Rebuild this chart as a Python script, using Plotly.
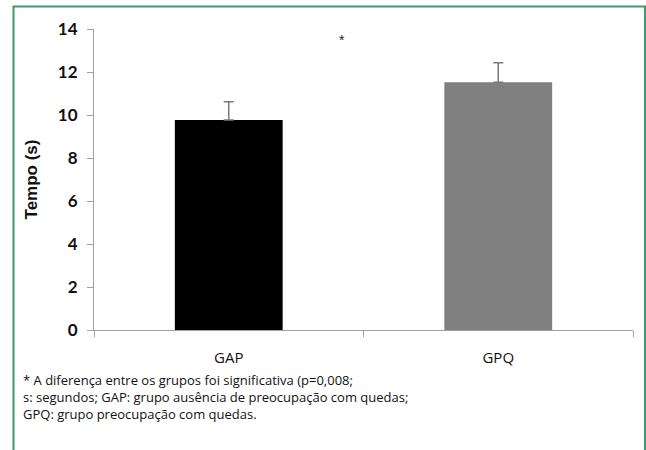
import plotly.graph_objects as go

categories = ["GAP", "GPQ"]
means = [9.77, 11.52]
sd_upper = [0.85, 0.91]
bar_colors = ["#000000", "#808080"]
y_ticks = [0, 2, 4, 6, 8, 10, 12, 14]
caption_lines = [
    "* A diferença entre os grupos foi significativa (p=0,008;",
    "s: segundos; GAP: grupo ausência de preocupação com quedas;",
    "GPQ: grupo preocupação com quedas.",
]

fig = go.Figure()
fig.add_trace(go.Bar(
    x=categories, y=means,
    marker=dict(color=bar_colors, line=dict(width=0)),
    width=0.4,
    error_y=dict(type="data", symmetric=False, array=sd_upper, arrayminus=[0, 0],
                 color="#7a7a7a", thickness=1.5, width=5),
))

fig.add_annotation(x=0.42, y=13.5, xref="x", yref="y", text="*", showarrow=False,
                   font=dict(family="Liberation Sans", size=14, color="#222222"))

fig.add_annotation(x=(22 - 94) / 539, y=(330 - 396.5) / 301, xref="paper", yref="paper",
                   text="<br>".join(caption_lines), showarrow=False, align="left",
                   xanchor="left", yanchor="middle", borderpad=0,
                   font=dict(family="Open Sans", size=13, color="#111111"))

fig.add_shape(type="rect", xref="paper", yref="paper",
              x0=(13.5 - 94) / 539, x1=(645 - 94) / 539,
              y0=(330 - 470) / 301, y1=(330 - 6.5) / 301,
              line=dict(color="#3d9a6e", width=2), fillcolor="rgba(0,0,0,0)", layer="below")

fig.update_layout(
    width=646, height=450,
    margin=dict(l=94, r=13, t=29, b=120),
    paper_bgcolor="white", plot_bgcolor="white",
    showlegend=False,
    xaxis=dict(showline=True, linecolor="#a0a0a0", linewidth=1.2,
               ticks="outside", tickson="boundaries", ticklen=6, tickcolor="#a0a0a0",
               tickfont=dict(family="Open Sans", size=15, color="#111111"),
               ticklabelstandoff=14, showgrid=False),
    yaxis=dict(range=[0, 14], tickvals=y_ticks, showline=True, linecolor="#a0a0a0", linewidth=1.2,
               ticks="outside", ticklen=6, tickcolor="#a0a0a0", showgrid=False, zeroline=False,
               ticklabelstandoff=6,
               tickfont=dict(family="Lato", size=17, color="#111111", weight="bold"),
               title=dict(text="<b>Tempo (s)</b>", font=dict(family="Liberation Sans", size=17, color="#111111"),
                          standoff=15)),
)

fig.write_html("out.html", config={"displayModeBar": False},
               post_script="document.body.style.margin='0';")
